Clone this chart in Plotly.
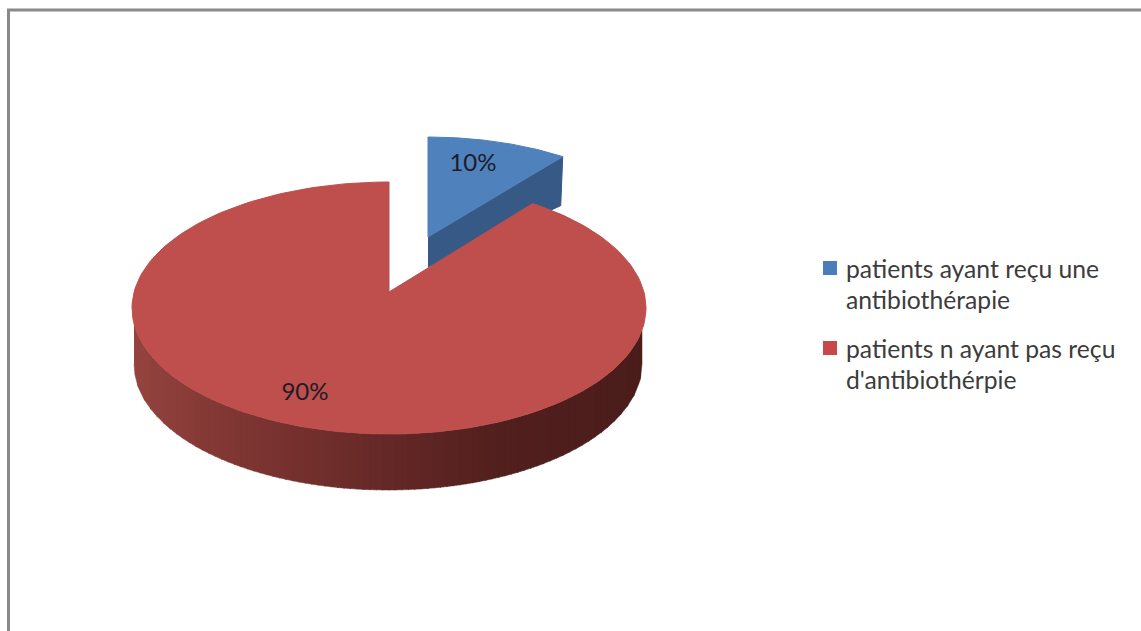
import math
import numpy as np
import plotly.graph_objects as go

# ---- data ----
categories = ["patients ayant reçu une<br>antibiothérapie",
              "patients n ayant pas reçu<br>d'antibiothérpie"]
values = [10, 90]
top_colors = ["#4F81BD", "#BE4F4C"]
wall_blue = "#365A85"

# ---- drawing geometry (pixel-like axes) ----
W, H = 1141, 631
K = 0.928  # perspective warp of the angle


def warp(t):
    return np.arctan2(np.sin(t) * K, np.cos(t))


def rim(cx, cy, rx, ry, t0, t1, n=200):
    t = np.linspace(t0, t1, n)
    w = warp(t)
    return cx + rx * np.sin(w), cy - ry * np.cos(w)


sweep_blue = 2 * math.pi * values[0] / sum(values)

fig = go.Figure()

# blue exploded slice: wall, then top
bx, by = rim(428, 252, 241, 115, 0, sweep_blue)
apex_b = (428, 237)
fig.add_trace(go.Scatter(
    x=[apex_b[0], bx[-1], bx[-1] - 2, apex_b[0]],
    y=[apex_b[1], by[-1], by[-1] + 49, apex_b[1] + 30],
    mode="lines", fill="toself", fillcolor=wall_blue,
    line=dict(color=wall_blue, width=1), showlegend=False, hoverinfo="skip"))
fig.add_trace(go.Scatter(
    x=[apex_b[0], *bx, apex_b[0]], y=[apex_b[1], *by, apex_b[1]],
    mode="lines", fill="toself", fillcolor=top_colors[0],
    line=dict(color=top_colors[0], width=1), showlegend=False, hoverinfo="skip"))

# red wall: vertical strips of a horizontal gradient
stops_x = [131, 220, 360, 500, 646]
stops_c = [(150, 68, 64), (130, 56, 52), (106, 43, 41), (82, 32, 30), (74, 29, 27)]
n_strips = 80
xs = np.linspace(131, 646, n_strips + 1)
cx0, cy0, rx0, ry0, depth = 389, 308, 257, 126, 56
bcx, brx = 388, 254
for i in range(n_strips):
    a, b = xs[i], xs[i + 1] + 1
    mid = (a + b) / 2
    col = [np.interp(mid, stops_x, [c[k] for c in stops_c]) for k in range(3)]
    rgb = "rgb(%d,%d,%d)" % tuple(int(v) for v in col)
    sx = np.linspace(max(a, bcx - brx), min(b, bcx + brx), 6)
    if sx[-1] <= sx[0]:
        continue
    u = np.sqrt(np.clip(1 - ((sx - cx0) / rx0) ** 2, 0, 1))
    ub = np.sqrt(np.clip(1 - ((sx - bcx) / brx) ** 2, 0, 1))
    ytop = cy0 + ry0 * u
    ybot = cy0 + depth + ry0 * ub
    fig.add_trace(go.Scatter(
        x=[*sx, *sx[::-1]], y=[*ytop, *ybot[::-1]],
        mode="lines", fill="toself", fillcolor=rgb,
        line=dict(color=rgb, width=0.5), showlegend=False, hoverinfo="skip"))

# red top surface
rx, ry = rim(cx0, cy0, rx0, ry0, sweep_blue, 2 * math.pi)
apex = (389, 292)
fig.add_trace(go.Scatter(
    x=[apex[0], *rx, apex[0]], y=[apex[1], *ry, apex[1]],
    mode="lines", fill="toself", fillcolor=top_colors[1],
    line=dict(color=top_colors[1], width=1), showlegend=False, hoverinfo="skip"))

# percent labels
fig.add_trace(go.Scatter(
    x=[473, 305], y=[165, 394], mode="text",
    text=[f"{v}%" for v in values],
    textfont=dict(family="Lato", size=24, color="#1c1c28"),
    textposition="middle center", showlegend=False, hoverinfo="skip"))

# legend entries: a swatch on the first line, text lines set out below it
legend_colors = ["#4A7EBB", "#C8484A"]
legend_lines_y = [[268, 299], [348, 379]]
annotations = []
for name, col, ly in zip(categories, legend_colors, legend_lines_y):
    fig.add_trace(go.Scatter(
        x=[830], y=[ly[0]], mode="markers", name=name.replace("<br>", " "),
        marker=dict(symbol="square", size=14, color=col), showlegend=False))
    for line, y in zip(name.split("<br>"), ly):
        annotations.append(dict(
            x=845, y=y, text=line, showarrow=False, xanchor="left", yanchor="middle",
            xshift=-1, font=dict(family="Lato", size=24.7, color="#3c3c3c")))

fig.update_layout(
    width=W, height=H, margin=dict(l=0, r=0, t=0, b=0),
    paper_bgcolor="white", plot_bgcolor="white", showlegend=False,
    xaxis=dict(range=[0, W], visible=False, fixedrange=True),
    yaxis=dict(range=[H, 0], visible=False, fixedrange=True),
    annotations=annotations,
    shapes=[
        dict(type="line", x0=8.5, x1=8.5, y0=9, y1=H, line=dict(color="#8a8a8a", width=3)),
        dict(type="line", x0=7, x1=W, y0=10, y1=10, line=dict(color="#8a8a8a", width=3)),
    ],
)
fig.write_html("out.html", config=dict(displayModeBar=False),
               post_script="document.body.style.margin='0';document.body.style.overflow='hidden';")
